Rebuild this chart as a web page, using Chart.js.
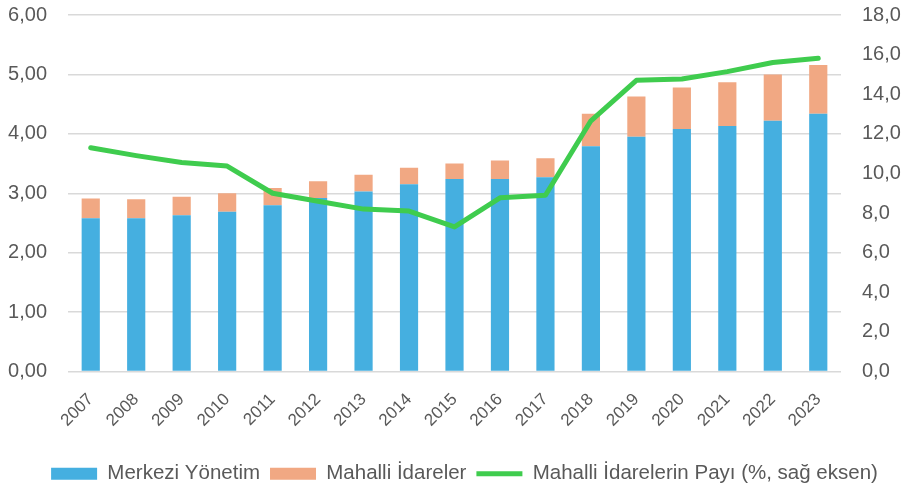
<!DOCTYPE html>
<html>
<head>
<meta charset="utf-8">
<script src="https://cdn.jsdelivr.net/npm/chart.js@4.4.1/dist/chart.umd.min.js"></script>
<style>
  html, body { margin: 0; padding: 0; background: #fff; }
  #wrap { width: 905px; height: 487px; }
</style>
</head>
<body>
<div id="wrap"><canvas id="chart"></canvas></div>
<script>
const years = ["2007", "2008", "2009", "2010", "2011", "2012", "2013", "2014", "2015",
    "2016", "2017", "2018", "2019", "2020", "2021", "2022", "2023"];
const merkezi = [2.58, 2.58, 2.63, 2.69, 2.80, 2.92, 3.03, 3.15, 3.24,
    3.24, 3.27, 3.79, 3.95, 4.08, 4.13, 4.22, 4.34];
const mahalli = [0.33, 0.32, 0.31, 0.31, 0.29, 0.28, 0.28, 0.28, 0.26,
    0.31, 0.32, 0.55, 0.68, 0.70, 0.74, 0.78, 0.82];
const pay = [11.3, 10.9, 10.55, 10.37, 9.0, 8.6, 8.2, 8.1, 7.3,
    8.77, 8.9, 12.66, 14.7, 14.77, 15.14, 15.6, 15.82];

const labelNames = ["Merkezi Yönetim", "Mahalli İdareler", "Mahalli İdarelerin Payı (%, sağ eksen)"];
const textColor = "#595959";
const fontFamily = "Liberation Sans";

// fixed axis sizes so the plot area lands where the original has it
function fixY(width) {
    return scale => {
        scale.width = width;
        scale.paddingTop = 15;
        scale.paddingBottom = 12;
    };
}

// the original legend sits a bit right of centre
const legendShift = {
    id: "legendShift",
    afterLayout(chart) {
        chart.legend.left += 10;
        chart.legend.right += 10;
    }
};

const ctx = document.getElementById("chart").getContext("2d");
const chart = new Chart(ctx, {
    type: "bar",
    data: {
        labels: years,
        datasets: [{
            label: labelNames[0],
            data: merkezi,
            backgroundColor: "#45AFE0",
            yAxisID: "y",
            order: 1,
            pointStyle: "rect"
        }, {
            label: labelNames[1],
            data: mahalli,
            backgroundColor: "#F1A883",
            yAxisID: "y",
            order: 1,
            pointStyle: "rect"
        }, {
            type: "line",
            label: labelNames[2],
            data: pay,
            borderColor: "#3FCC4E",
            backgroundColor: "#3FCC4E",
            borderWidth: 5,
            borderCapStyle: "round",
            borderJoinStyle: "round",
            pointRadius: 0,
            tension: 0,
            yAxisID: "y1",
            order: 0,
            pointStyle: "line"
        }]
    },
    options: {
        responsive: true,
        maintainAspectRatio: false,
        animation: false,
        barPercentage: 0.4,
        categoryPercentage: 1,
        layout: { padding: { left: 7, right: 3, top: 0, bottom: -7 } },
        plugins: {
            tooltip: { enabled: false },
            legend: {
                position: "bottom",
                labels: {
                    color: textColor,
                    font: { family: fontFamily, size: 20.5 },
                    usePointStyle: true,
                    pointStyleWidth: 46,
                    boxHeight: 12,
                    padding: 10,
                    sort: (a, b) => a.datasetIndex - b.datasetIndex
                }
            }
        },
        scales: {
            x: {
                stacked: true,
                grid: { display: false, drawTicks: false },
                border: { display: false },
                ticks: {
                    color: textColor,
                    font: { family: fontFamily, size: 17 },
                    minRotation: 45,
                    maxRotation: 45,
                    padding: 18
                },
                afterFit: scale => { scale.height = 82; }
            },
            y: {
                stacked: true,
                position: "left",
                min: 0,
                max: 6,
                grid: { color: "#d9d9d9", lineWidth: 1.5, drawTicks: false },
                border: { display: false },
                ticks: {
                    stepSize: 1,
                    color: textColor,
                    font: { family: fontFamily, size: 20 },
                    padding: 21,
                    callback: v => v.toFixed(2).replace(".", ",")
                },
                afterFit: fixY(61)
            },
            y1: {
                position: "right",
                min: 0,
                max: 18,
                grid: { display: false, drawTicks: false },
                border: { display: false },
                ticks: {
                    stepSize: 2,
                    color: textColor,
                    font: { family: fontFamily, size: 20 },
                    padding: 21,
                    callback: v => v.toFixed(1).replace(".", ",")
                },
                afterFit: fixY(61)
            }
        }
    },
    plugins: [legendShift]
});
</script>
</body>
</html>
